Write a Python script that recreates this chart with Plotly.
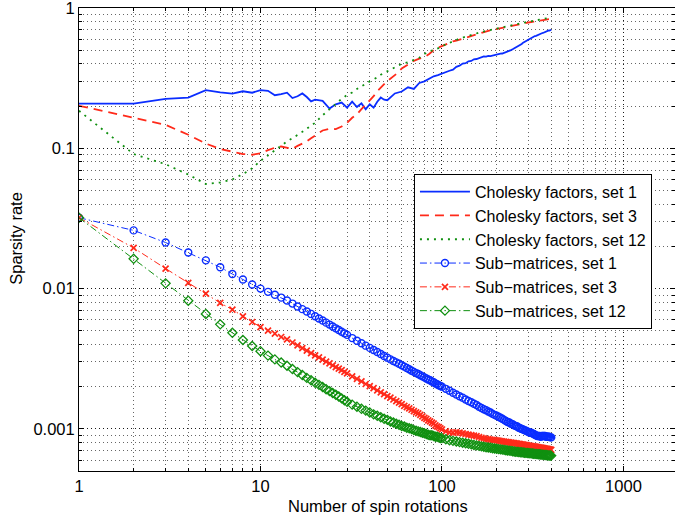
"""Sparsity rate vs number of spin rotations (log-log)."""
import plotly.graph_objects as go

# rotation counts the curves are sampled at
chol_rotations = list(range(1, 21)) + list(range(22, 51, 2)) + list(range(55, 401, 5))
sub_rotations = list(range(1, 31)) + list(range(32, 101, 2)) + list(range(105, 401, 5))

chol_set1 = [
    0.208, 0.208, 0.225, 0.230, 0.260, 0.250, 0.245, 0.255, 0.249, 0.260,
    0.257, 0.239, 0.243, 0.249, 0.228, 0.235, 0.246, 0.232, 0.216, 0.222,
    0.218, 0.192, 0.206, 0.212, 0.195, 0.215, 0.197, 0.209, 0.190, 0.206,
    0.195, 0.215, 0.230, 0.222, 0.220,
    0.246, 0.254, 0.272, 0.265, 0.292, 0.300, 0.312, 0.326, 0.332, 0.342,
    0.349, 0.357, 0.364, 0.381, 0.388, 0.402, 0.404, 0.417, 0.419, 0.431,
    0.433, 0.441, 0.444, 0.451, 0.450, 0.456, 0.454, 0.459, 0.461, 0.466,
    0.469, 0.473, 0.474, 0.479, 0.481, 0.491, 0.494, 0.501, 0.508, 0.516,
    0.521, 0.526, 0.534, 0.546, 0.554, 0.566, 0.574, 0.581, 0.589, 0.596,
    0.601, 0.609, 0.616, 0.624, 0.631, 0.634, 0.641, 0.644, 0.651, 0.654,
    0.661, 0.664, 0.671, 0.674, 0.681, 0.684, 0.690, 0.691, 0.696, 0.698,
]
chol_set3 = [
    0.201, 0.166, 0.147, 0.125, 0.108, 0.099, 0.094, 0.091, 0.090, 0.092,
    0.097, 0.101, 0.103, 0.101, 0.099, 0.104, 0.108, 0.112, 0.118, 0.124,
    0.134, 0.138, 0.137, 0.143, 0.152, 0.165, 0.175, 0.190, 0.205, 0.218,
    0.235, 0.255, 0.271, 0.290, 0.302,
    0.332, 0.370, 0.395, 0.420, 0.435, 0.445, 0.470, 0.500, 0.520, 0.535,
    0.550, 0.565, 0.578, 0.585, 0.595, 0.605, 0.615, 0.625, 0.632, 0.640,
    0.650, 0.660, 0.668, 0.675, 0.682, 0.690, 0.695, 0.700, 0.705, 0.708,
    0.712, 0.718, 0.722, 0.727, 0.732, 0.737, 0.742, 0.747, 0.752, 0.757,
    0.762, 0.765, 0.768, 0.772, 0.776, 0.779, 0.782, 0.785, 0.788, 0.790,
    0.793, 0.796, 0.798, 0.800, 0.803, 0.806, 0.809, 0.812, 0.815, 0.818,
    0.820, 0.822, 0.824, 0.826, 0.828, 0.830, 0.832, 0.834, 0.836, 0.838,
]
chol_set12 = [
    0.185, 0.091, 0.077, 0.065, 0.0557, 0.057, 0.060, 0.0655, 0.072, 0.0816,
    0.089, 0.097, 0.105, 0.112, 0.118, 0.124, 0.131, 0.138, 0.145, 0.152,
    0.172, 0.190, 0.205, 0.225, 0.240, 0.250, 0.265, 0.275, 0.288, 0.300,
    0.310, 0.320, 0.335, 0.345, 0.352,
    0.380, 0.400, 0.410, 0.425, 0.442, 0.470, 0.490, 0.502, 0.515, 0.535,
    0.550, 0.568, 0.582, 0.592, 0.605, 0.615, 0.625, 0.635, 0.645, 0.652,
    0.660, 0.667, 0.675, 0.680, 0.686, 0.692, 0.698, 0.705, 0.710, 0.715,
    0.720, 0.725, 0.730, 0.735, 0.740, 0.745, 0.750, 0.754, 0.758, 0.762,
    0.765, 0.768, 0.772, 0.776, 0.780, 0.784, 0.788, 0.792, 0.795, 0.798,
    0.801, 0.804, 0.807, 0.810, 0.813, 0.816, 0.819, 0.822, 0.825, 0.828,
    0.831, 0.834, 0.837, 0.840, 0.843, 0.846, 0.849, 0.852, 0.855, 0.858,
]
sub_set1 = [
    0.0320, 0.0260, 0.0213, 0.0181, 0.0159, 0.0142, 0.0127, 0.0116, 0.0107, 0.0100,
    0.00948, 0.00903, 0.00863, 0.00822, 0.00782, 0.00746, 0.00714, 0.00686, 0.00660, 0.00636,
    0.00613, 0.00592, 0.00572, 0.00554, 0.00537, 0.00521, 0.00507, 0.00493, 0.00480, 0.00468,
    0.00444, 0.00425, 0.00408, 0.00392, 0.00378, 0.00365, 0.00353, 0.00342, 0.00331, 0.00322,
    0.00313, 0.00305, 0.00298, 0.00291, 0.00284, 0.00278, 0.00272, 0.00266, 0.00260, 0.00255,
    0.00250, 0.00246, 0.00241, 0.00237, 0.00233, 0.00229, 0.00225, 0.00222, 0.00218, 0.00215,
    0.00211, 0.00208, 0.00205, 0.00202, 0.00200,
    0.00193, 0.00187, 0.00181, 0.00176, 0.00171, 0.00167, 0.00162, 0.00158, 0.00155, 0.00151,
    0.00148, 0.00144, 0.00141, 0.00138, 0.00136, 0.00133, 0.00131, 0.00128, 0.00126, 0.00124,
    0.00122, 0.00120, 0.00118, 0.00116, 0.00114, 0.00112, 0.00111, 0.00109, 0.00108, 0.00106,
    0.00105, 0.00104, 0.00102, 0.00101, 0.00100, 0.00099, 0.00098, 0.00097, 0.00096, 0.00095,
    0.00094, 0.00094, 0.00093, 0.00092, 0.00091, 0.00090, 0.00089, 0.00089, 0.00089, 0.00088,
    0.00089, 0.00089, 0.00089, 0.00089, 0.00088, 0.00088, 0.00088, 0.00088, 0.00087, 0.00087,
]
sub_set3 = [
    0.0320, 0.0195, 0.0139, 0.0110, 0.0092, 0.0079, 0.00708, 0.00634, 0.00578, 0.00532,
    0.00502, 0.00477, 0.00452, 0.00434, 0.00413, 0.00394, 0.00377, 0.00361, 0.00347, 0.00334,
    0.00323, 0.00312, 0.00302, 0.00293, 0.00284, 0.00276, 0.00269, 0.00262, 0.00255, 0.00249,
    0.00237, 0.00227, 0.00218, 0.00209, 0.00202, 0.00195, 0.00188, 0.00182, 0.00177, 0.00171,
    0.00167, 0.00162, 0.00158, 0.00154, 0.00150, 0.00146, 0.00143, 0.00140, 0.00137, 0.00134,
    0.00131, 0.00129, 0.00126, 0.00123, 0.00120, 0.00118, 0.00115, 0.00113, 0.00111, 0.00109,
    0.00106, 0.00104, 0.00103, 0.00101, 0.00099,
    0.00096, 0.000945, 0.00094, 0.000945, 0.00094, 0.00093, 0.00092, 0.00091, 0.000904, 0.000896,
    0.000887, 0.000876, 0.000865, 0.000856, 0.00085, 0.000845, 0.00084, 0.000836, 0.000832, 0.000828,
    0.000824, 0.00082, 0.000816, 0.000812, 0.000808, 0.000805, 0.000801, 0.000798, 0.000795, 0.000792,
    0.000789, 0.000786, 0.000782, 0.000779, 0.000776, 0.000773, 0.00077, 0.000767, 0.000764, 0.000761,
    0.000758, 0.000755, 0.000752, 0.00075, 0.000747, 0.000745, 0.000742, 0.00074, 0.000737, 0.000735,
    0.000732, 0.00073, 0.000727, 0.000725, 0.000722, 0.00072, 0.000717, 0.000715, 0.000712, 0.00071,
]
sub_set12 = [
    0.0320, 0.0163, 0.0109, 0.00820, 0.00660, 0.00556, 0.00484, 0.00430, 0.00390, 0.00358,
    0.00333, 0.00313, 0.00297, 0.00282, 0.00267, 0.00254, 0.00242, 0.00231, 0.00222, 0.00213,
    0.00206, 0.00199, 0.00192, 0.00186, 0.00180, 0.00175, 0.00170, 0.00165, 0.00160, 0.00156,
    0.00149, 0.00144, 0.00139, 0.00135, 0.00131, 0.00127, 0.00124, 0.00121, 0.00118, 0.00116,
    0.00113, 0.00111, 0.00109, 0.00107, 0.00105, 0.00104, 0.00102, 0.00101, 0.00100, 0.00098,
    0.00097, 0.00096, 0.00095, 0.00094, 0.00093, 0.00092, 0.00091, 0.00090, 0.00090, 0.00089,
    0.00088, 0.00088, 0.00087, 0.00086, 0.00086,
    0.000844, 0.000831, 0.000822, 0.000813, 0.000805, 0.000797, 0.00079, 0.000783, 0.000776, 0.000769,
    0.000763, 0.000757, 0.000751, 0.000746, 0.000741, 0.000737, 0.000733, 0.000729, 0.000725, 0.000722,
    0.000718, 0.000715, 0.000712, 0.000709, 0.000705, 0.000702, 0.0007, 0.000697, 0.000694, 0.000691,
    0.000688, 0.000686, 0.000684, 0.000682, 0.000681, 0.000679, 0.000677, 0.000675, 0.000674, 0.000672,
    0.00067, 0.000669, 0.000667, 0.000666, 0.000664, 0.000663, 0.000661, 0.00066, 0.000659, 0.000657,
    0.000656, 0.000655, 0.000653, 0.000652, 0.000651, 0.00065, 0.000648, 0.000647, 0.000646, 0.000645,
]

x_ticks = [1, 10, 100, 1000]
x_ticktext = ["1", "10", "100", "1000"]
y_ticks = [0.001, 0.01, 0.1, 1]
y_ticktext = ["0.001", "0.01", "0.1", "1"]

for s in (chol_set1, chol_set3, chol_set12):
    assert len(s) == len(chol_rotations), len(s)
for s in (sub_set1, sub_set3, sub_set12):
    assert len(s) == len(sub_rotations), len(s)

BLUE = "#0a2dff"
RED = "#ff2a1a"
GREEN = "#109010"
DASHDOT = "7px,3px,1.5px,3px"

fig = go.Figure()

fig.add_trace(go.Scatter(x=chol_rotations, y=chol_set1, mode="lines",
                         name="Cholesky factors, set 1",
                         line=dict(color=BLUE, width=1.8)))
fig.add_trace(go.Scatter(x=chol_rotations, y=chol_set3, mode="lines",
                         name="Cholesky factors, set 3",
                         line=dict(color=RED, width=1.8, dash="9px,6px")))
fig.add_trace(go.Scatter(x=chol_rotations, y=chol_set12, mode="lines",
                         name="Cholesky factors, set 12",
                         line=dict(color=GREEN, width=1.8, dash="2px,5px")))

fig.add_trace(go.Scatter(x=sub_rotations, y=sub_set1, mode="lines+markers",
                         name="Sub\u2212matrices, set 1",
                         line=dict(color=BLUE, width=1, dash=DASHDOT),
                         marker=dict(symbol="circle-open", size=7, color=BLUE,
                                     line=dict(width=1.4, color=BLUE))))
fig.add_trace(go.Scatter(x=sub_rotations, y=sub_set3, mode="lines+markers",
                         name="Sub\u2212matrices, set 3",
                         line=dict(color=RED, width=1, dash=DASHDOT),
                         marker=dict(symbol="x-thin", size=6, color=RED,
                                     line=dict(width=1.7, color=RED))))
fig.add_trace(go.Scatter(x=sub_rotations, y=sub_set12, mode="lines+markers",
                         name="Sub\u2212matrices, set 12",
                         line=dict(color=GREEN, width=1, dash=DASHDOT),
                         marker=dict(symbol="diamond-open", size=7, color=GREEN,
                                     line=dict(width=1.3, color=GREEN))))

grid = dict(showgrid=True, gridcolor="rgba(0,0,0,0.75)", gridwidth=1, griddash="1px,3px")
minor = dict(ticks="inside", ticklen=3, tickcolor="black", dtick="D1",
             showgrid=True, gridcolor="rgba(0,0,0,0.6)", gridwidth=1, griddash="1px,3px")

fig.update_xaxes(
    type="log", range=[0, 3.284], automargin=False,
    tickvals=x_ticks, ticktext=x_ticktext,
    ticks="inside", ticklen=5, tickcolor="black",
    showline=True, linecolor="black", linewidth=1, mirror="ticks",
    minor=minor, zeroline=False, ticklabeloverflow="allow",
    **grid,
)
fig.update_yaxes(
    type="log", range=[-3.30, 0], automargin=False,
    tickvals=y_ticks, ticktext=y_ticktext,
    ticks="inside", ticklen=5, tickcolor="black",
    showline=True, linecolor="black", linewidth=1, mirror="ticks",
    minor=minor, zeroline=False, ticklabeloverflow="allow",
    **grid,
)

# axis titles placed as annotations so the plot area stays fixed
fig.add_annotation(text="Number of spin rotations", xref="paper", yref="paper",
                   x=0.502, y=-0.075, xanchor="center", yanchor="middle",
                   showarrow=False, font=dict(size=16.5))
fig.add_annotation(text="Sparsity rate", xref="paper", yref="paper",
                   x=-0.107, y=0.502, xanchor="center", yanchor="middle",
                   textangle=-90, showarrow=False, font=dict(size=16.5))

fig.update_layout(
    width=675, height=519,
    margin=dict(l=79, r=0, t=8, b=48),
    plot_bgcolor="white", paper_bgcolor="white",
    font=dict(family="Liberation Sans, Arial, sans-serif", size=16.5, color="black"),
    showlegend=True,
    legend=dict(x=0.562, y=0.642, xanchor="left", yanchor="top",
                bgcolor="white", bordercolor="black", borderwidth=1,
                font=dict(size=16), itemwidth=50, tracegroupgap=0),
)

# drop the page's default body margin so the figure sits at the window corner
fig.write_html("out.html", config={"displayModeBar": False},
               post_script="document.body.style.margin='0';")
